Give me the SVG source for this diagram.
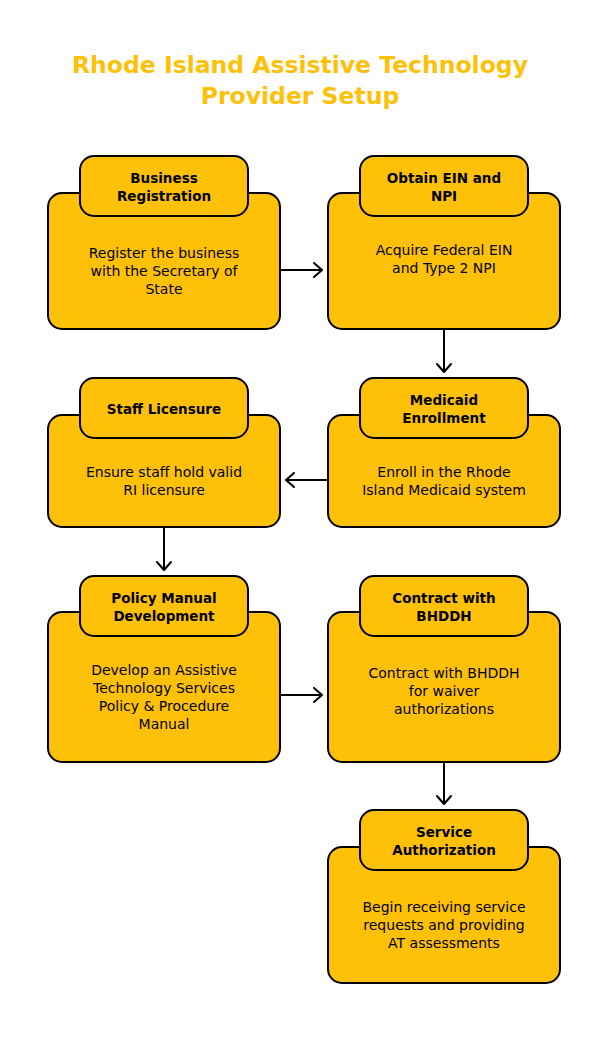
<svg xmlns="http://www.w3.org/2000/svg" width="608" height="1056" viewBox="0 0 608 1056">
  <defs>
    <marker id="arrow" viewBox="0 0 12 16" markerWidth="12" markerHeight="16" refX="10" refY="8" orient="auto" markerUnits="userSpaceOnUse">
      <path d="M2,1 L10,8 L2,15" fill="none" stroke="#000" stroke-width="2" stroke-linecap="round" stroke-linejoin="round"/>
    </marker>
  </defs>
  <style>
    .title { font-family: "DejaVu Sans", "Liberation Sans", sans-serif; font-size: 23.5px; font-weight: bold; fill: #FFC107; text-anchor: middle; }
    .box { fill: #FFC107; stroke: #000; stroke-width: 2; }
    .head { font-family: "DejaVu Sans", "Liberation Sans", sans-serif; font-size: 13.5px; font-weight: bold; fill: #000; text-anchor: middle; }
    .desc { font-family: "DejaVu Sans", "Liberation Sans", sans-serif; font-size: 14px; fill: #000; text-anchor: middle; }
    .conn { fill: none; stroke: #000; stroke-width: 2; marker-end: url(#arrow); }
  </style>
  <rect width="608" height="1056" fill="#fff"/>
  <g id="title">
    <text class="title" x="300" y="73">Rhode Island Assistive Technology</text>
    <text class="title" x="300" y="104">Provider Setup</text>
  </g>

  <g id="connectors">
    <path class="conn" d="M280,270 L322,270"/>
    <path class="conn" d="M444,330 L444,372"/>
    <path class="conn" d="M328,480 L286,480"/>
    <path class="conn" d="M164,528 L164,570"/>
    <path class="conn" d="M280,695 L322,695"/>
    <path class="conn" d="M444,762 L444,804"/>
  </g>

  <g id="business-registration">
    <rect class="box" x="48" y="193" width="232" height="136" rx="14"/>
    <rect class="box" x="80" y="156" width="168" height="60" rx="14"/>
    <text class="head" x="164" y="183">Business</text>
    <text class="head" x="164" y="201">Registration</text>
    <text class="desc" x="164" y="258">Register the business</text>
    <text class="desc" x="164" y="276">with the Secretary of</text>
    <text class="desc" x="164" y="294">State</text>
  </g>

  <g id="obtain-ein-npi">
    <rect class="box" x="328" y="193" width="232" height="136" rx="14"/>
    <rect class="box" x="360" y="156" width="168" height="60" rx="14"/>
    <text class="head" x="444" y="183">Obtain EIN and</text>
    <text class="head" x="444" y="201">NPI</text>
    <text class="desc" x="444" y="255">Acquire Federal EIN</text>
    <text class="desc" x="444" y="273">and Type 2 NPI</text>
  </g>

  <g id="medicaid-enrollment">
    <rect class="box" x="328" y="415" width="232" height="112" rx="14"/>
    <rect class="box" x="360" y="378" width="168" height="60" rx="14"/>
    <text class="head" x="444" y="405">Medicaid</text>
    <text class="head" x="444" y="423">Enrollment</text>
    <text class="desc" x="444" y="477">Enroll in the Rhode</text>
    <text class="desc" x="444" y="495">Island Medicaid system</text>
  </g>

  <g id="staff-licensure">
    <rect class="box" x="48" y="415" width="232" height="112" rx="14"/>
    <rect class="box" x="80" y="378" width="168" height="60" rx="14"/>
    <text class="head" x="164" y="414">Staff Licensure</text>
    <text class="desc" x="164" y="477">Ensure staff hold valid</text>
    <text class="desc" x="164" y="495">RI licensure</text>
  </g>

  <g id="policy-manual">
    <rect class="box" x="48" y="612" width="232" height="150" rx="14"/>
    <rect class="box" x="80" y="576" width="168" height="60" rx="14"/>
    <text class="head" x="164" y="603">Policy Manual</text>
    <text class="head" x="164" y="621">Development</text>
    <text class="desc" x="164" y="675">Develop an Assistive</text>
    <text class="desc" x="164" y="693">Technology Services</text>
    <text class="desc" x="164" y="711">Policy &amp; Procedure</text>
    <text class="desc" x="164" y="729">Manual</text>
  </g>

  <g id="contract-bhddh">
    <rect class="box" x="328" y="612" width="232" height="150" rx="14"/>
    <rect class="box" x="360" y="576" width="168" height="60" rx="14"/>
    <text class="head" x="444" y="603">Contract with</text>
    <text class="head" x="444" y="621">BHDDH</text>
    <text class="desc" x="444" y="678">Contract with BHDDH</text>
    <text class="desc" x="444" y="696">for waiver</text>
    <text class="desc" x="444" y="714">authorizations</text>
  </g>

  <g id="service-authorization">
    <rect class="box" x="328" y="847" width="232" height="136" rx="14"/>
    <rect class="box" x="360" y="810" width="168" height="60" rx="14"/>
    <text class="head" x="444" y="837">Service</text>
    <text class="head" x="444" y="855">Authorization</text>
    <text class="desc" x="444" y="912">Begin receiving service</text>
    <text class="desc" x="444" y="930">requests and providing</text>
    <text class="desc" x="444" y="948">AT assessments</text>
  </g>
</svg>
